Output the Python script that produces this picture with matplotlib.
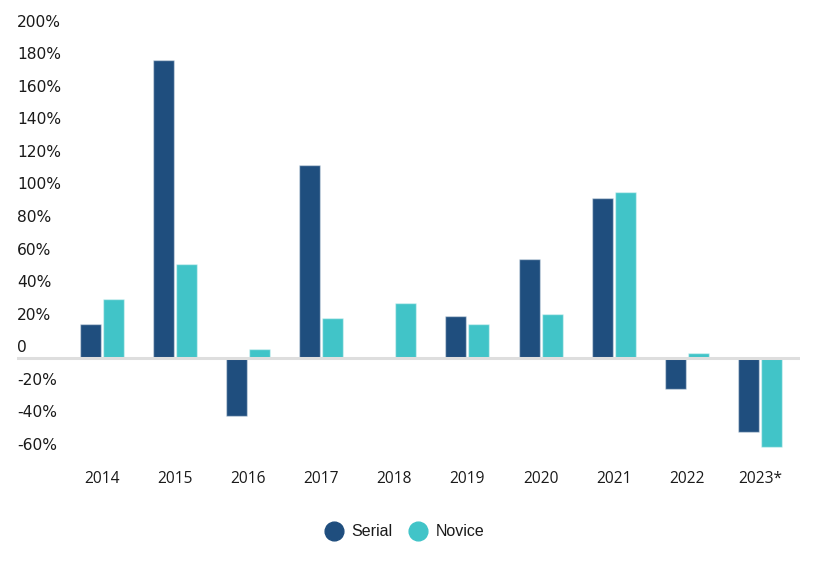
import matplotlib
matplotlib.use("Agg")
import matplotlib.pyplot as plt
import matplotlib.transforms as mtransforms
from matplotlib.lines import Line2D
import numpy as np

years = ["2014", "2015", "2016", "2017", "2018", "2019", "2020", "2021", "2022", "2023*"]
serial = [20.5, 183, -35.6, 118.6, 0, 25.6, 60.4, 98.3, -19.3, -45.9]
novice = [36.0, 57.3, 5.3, 24.4, 33.7, 20.5, 26.7, 101.5, 2.9, -55.1]
ytick_vals = [200, 180, 160, 140, 120, 100, 80, 60, 40, 20, 0, -20, -40, -60]
ytick_labels = ["200%", "180%", "160%", "140%", "120%", "100%", "80%", "60%", "40%", "20%", "0", "-20%", "-40%", "-60%"]

SERIAL_C = "#1f4e7e"
NOVICE_C = "#41c4c8"

W, H = 833, 563
fig = plt.figure(figsize=(W / 100, H / 100), dpi=100)
left_px, right_px, top_px, bot_px = 17, 800, 21, 460
ax = fig.add_axes([left_px / W, 1 - bot_px / H, (right_px - left_px) / W, (bot_px - top_px) / H])

x = np.arange(len(years))
bw = 0.287
off = 0.157
ax.bar(x - off, serial, bw, color=SERIAL_C, edgecolor=(1, 1, 1, 0.45), linewidth=1, zorder=2)
ax.bar(x + off, novice, bw, color=NOVICE_C, edgecolor=(1, 1, 1, 0.45), linewidth=1, zorder=2)
ax.axhline(0, color="#dedede", lw=2.2, zorder=3)

spacing = 73.15
cx0 = 101.7
ax.set_xlim((left_px - cx0) / spacing, (right_px - cx0) / spacing)
ppu = 1.628
zero_px = 357.7
ax.set_ylim((zero_px - bot_px) / ppu, (zero_px - top_px) / ppu)

for s in ax.spines.values():
    s.set_visible(False)
ax.set_yticks([])
ax.set_xticks(x, years, fontfamily="Open Sans", fontsize=11.2, color="#1a1a1a")
ax.tick_params(axis="x", length=0, pad=8)

trans = mtransforms.blended_transform_factory(fig.transFigure, ax.transData) + \
    mtransforms.ScaledTranslation(0, 10 / 100, fig.dpi_scale_trans)
for v, lab in zip(ytick_vals, ytick_labels):
    ax.text(left_px / W, v, lab, transform=trans, ha="left", va="center",
            fontfamily="DejaVu Sans", fontsize=11.2, color="#1a1a1a")

handles = [
    Line2D([], [], marker="o", linestyle="none", markersize=13.5, markerfacecolor=SERIAL_C, markeredgecolor=SERIAL_C, label="Serial"),
    Line2D([], [], marker="o", linestyle="none", markersize=13.5, markerfacecolor=NOVICE_C, markeredgecolor=NOVICE_C, label="Novice"),
]
leg = fig.legend(handles=handles, loc="center", bbox_to_anchor=(404 / W, 1 - 532 / H), ncol=2,
                 frameon=False, handletextpad=0.5, columnspacing=1.0, handlelength=1.2,
                 prop={"family": "Liberation Sans", "size": 11.5})
for t in leg.get_texts():
    t.set_color("#1a1a1a")

fig.savefig("out.png", dpi=100)
